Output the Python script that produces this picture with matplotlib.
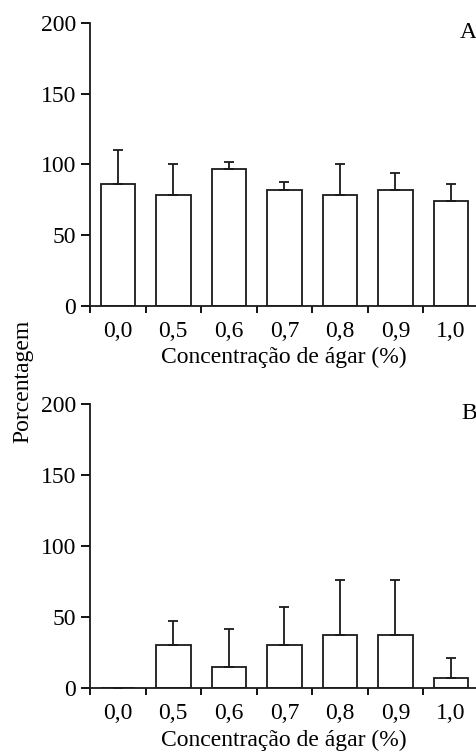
import matplotlib
matplotlib.use("Agg")
import matplotlib.pyplot as plt
import numpy as np

categories = ["0,0", "0,5", "0,6", "0,7", "0,8", "0,9", "1,0"]
means_a = [86, 78.5, 96.5, 82, 78.5, 82, 74]
err_a = [24, 21.5, 5.5, 5.5, 21.5, 12, 12.5]
means_b = [0, 30.5, 15, 30.5, 37.5, 37.5, 7.5]
err_b = [0, 17, 26.5, 27, 38.5, 38.5, 13.5]
yticks = [0, 50, 100, 150, 200]
xlabel = "Concentração de ágar (%)"
ylabel = "Porcentagem"
panel_labels = ["A", "B"]

plt.rcParams['font.family'] = ['Liberation Serif', 'DejaVu Serif']
plt.rcParams['font.size'] = 17

fig = plt.figure(figsize=(4.77, 7.53), dpi=100)
ax_a = fig.add_axes([0.1887, 0.5936, 0.8113, 0.3759])
ax_b = fig.add_axes([0.1887, 0.0859, 0.8113, 0.3772])

x = np.arange(len(categories))
for ax, means, errs, lab in [(ax_a, means_a, err_a, panel_labels[0]),
                             (ax_b, means_b, err_b, panel_labels[1])]:
    ax.bar(x, means, width=0.62, color="white", edgecolor="#1a1a1a", linewidth=1.3, zorder=2)
    ax.errorbar(x, means, yerr=[np.zeros(len(errs)), errs], fmt="none", ecolor="#1a1a1a",
                elinewidth=1.3, capsize=3.8, capthick=1.3, zorder=3)
    ax.set_ylim(0, 200)
    ax.set_xlim(-0.5, 6.47)
    ax.set_yticks(yticks)
    ax.set_xticks(np.arange(-0.5, 6.0, 1.0))
    ax.set_xticklabels([])
    ax.set_xticks(x, minor=True)
    ax.set_xticklabels(categories, minor=True)
    ax.tick_params(axis="x", which="minor", length=0, pad=10.5, labelsize=17)
    ax.tick_params(axis="x", which="major", length=5, width=1.3, direction="out")
    ax.tick_params(axis="y", length=6.5, width=1.3, direction="out", labelsize=17, pad=3.5)
    for s in ["top", "right"]:
        ax.spines[s].set_visible(False)
    for s in ["left", "bottom"]:
        ax.spines[s].set_linewidth(1.3)
        ax.spines[s].set_color("#1a1a1a")
    ax.set_xlabel(xlabel, fontsize=17, labelpad=4)
    ax.text(1.0, 0.968, lab, transform=ax.transAxes, ha="right", va="center", fontsize=17)

fig.text(0.048, 0.494, ylabel, rotation=90, ha="center", va="center", fontsize=17)

fig.savefig("out.png", dpi=100)
